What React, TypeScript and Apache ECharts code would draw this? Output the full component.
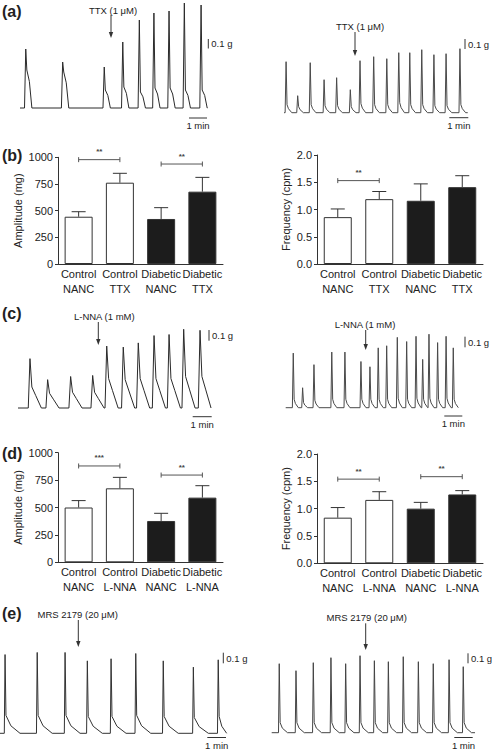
import React, { useEffect, useRef } from "react";
import * as echarts from "echarts";

const FONT = "'Liberation Sans', Arial, Helvetica, sans-serif";

// ---------- bar chart data ----------
const catB = ["Control\nNANC", "Control\nTTX", "Diabetic\nNANC", "Diabetic\nTTX"];
const catD = ["Control\nNANC", "Control\nL-NNA", "Diabetic\nNANC", "Diabetic\nL-NNA"];

const bAmplitude = [443, 762, 422, 678];
const bAmplitudeSem = [47, 88, 106, 134];
const bFrequency = [0.86, 1.19, 1.16, 1.41];
const bFrequencySem = [0.15, 0.14, 0.31, 0.21];

const dAmplitude = [500, 675, 377, 590];
const dAmplitudeSem = [63, 100, 70, 109];
const dFrequency = [0.835, 1.16, 1.0, 1.26];
const dFrequencySem = [0.185, 0.15, 0.115, 0.07];

// significance brackets: [fromCategory, toCategory, level, stars]
const bAmpSig: [number, number, number, string][] = [[0, 1, 978, "**"], [2, 3, 937, "**"]];
const bFreqSig: [number, number, number, string][] = [[0, 1, 1.53, "**"]];
const dAmpSig: [number, number, number, string][] = [[0, 1, 879, "***"], [2, 3, 796, "**"]];
const dFreqSig: [number, number, number, string][] = [[0, 1, 1.54, "**"], [2, 3, 1.585, "**"]];

// ---------- trace data: [time (min), peak (g), shoulder (g)] ----------
const peaksA1 = [[0.32, 0.59, 0.38], [2.37, 0.46, 0.36], [4.68, 0.41, 0.18], [5.71, 0.66, 0.21], [6.63, 0.88, 0.16], [7.44, 0.95, 0.2], [8.28, 0.97, 0.2], [9.13, 1.05, 0.18], [10.06, 1.03, 0.18]];
const peaksA2 = [[0.11, 0.51, 0.08], [0.72, 0.17, 0.06], [1.38, 0.5, 0.08], [2.11, 0.33, 0.07], [2.77, 0.35, 0.07], [3.49, 0.23, 0.06], [4.0, 0.52, 0.09], [4.72, 0.56, 0.08], [5.41, 0.54, 0.08], [6.04, 0.6, 0.1], [6.62, 0.6, 0.08], [7.25, 0.63, 0.08], [7.89, 0.58, 0.07], [8.53, 0.59, 0.07], [9.26, 0.64, 0.08]];
const peaksC1 = [[0.63, 0.47, 0.2], [1.56, 0.27, 0.14], [2.77, 0.3, 0.15], [3.93, 0.31, 0.15], [4.67, 0.59, 0.28], [5.54, 0.58, 0.27], [6.33, 0.62, 0.28], [7.16, 0.69, 0.28], [7.95, 0.7, 0.28], [8.72, 0.75, 0.3], [9.58, 0.74, 0.3]];
const peaksC2 = [[0.42, 0.52, 0.08], [0.94, 0.19, 0.05], [1.57, 0.41, 0.07], [2.56, 0.53, 0.08], [3.29, 0.53, 0.08], [4.18, 0.44, 0.08], [4.68, 0.39, 0.08], [5.14, 0.57, 0.08], [5.61, 0.59, 0.08], [6.2, 0.67, 0.09], [6.72, 0.63, 0.08], [7.24, 0.68, 0.09], [7.61, 0.46, 0.08], [7.96, 0.7, 0.09], [8.44, 0.62, 0.08], [8.91, 0.68, 0.09], [9.31, 0.57, 0.08]];
const peaksE1 = [[0.27, 0.75, 0.17], [1.99, 0.77, 0.17], [3.48, 0.77, 0.17], [4.67, 0.69, 0.16], [5.94, 0.71, 0.16], [7.26, 0.76, 0.17], [8.73, 0.69, 0.16], [10.34, 0.63, 0.15], [11.67, 0.7, 0.16]];
const peaksE2 = [[0.41, 0.69, 0.1], [1.32, 0.62, 0.1], [2.26, 0.7, 0.1], [3.22, 0.75, 0.1], [4.02, 0.69, 0.1], [4.8, 0.77, 0.1], [5.58, 0.72, 0.1], [6.34, 0.71, 0.1], [7.15, 0.76, 0.1], [7.97, 0.71, 0.1], [8.78, 0.69, 0.1], [9.64, 0.73, 0.1], [10.41, 0.66, 0.1]];

// recording lengths (min)
const durations = [10.42, 9.67, 10.16, 9.59, 12.12, 11.05];

type Shape = { rise: number; fall: number; decay: number; midAt: number; midLevel: number };

// connects the read peak / shoulder values of one recording into a polyline
function buildTrace(peaks: number[][], end: number, sh: Shape) {
  const pts: number[][] = [[0, 0]];
  peaks.forEach(([t, h, s], i) => {
    const next = i + 1 < peaks.length ? peaks[i + 1][0] - sh.rise : end;
    const start = t - sh.rise;
    if (start > pts[pts.length - 1][0]) pts.push([start, 0]);
    pts.push([t, h]);
    const f = Math.min(t + sh.fall, next, end);
    pts.push([f, s]);
    const d = Math.min(t + sh.decay, next, end);
    if (d > f) {
      pts.push([f + (d - f) * sh.midAt, s * sh.midLevel]);
      pts.push([d, 0]);
    }
  });
  if (end > pts[pts.length - 1][0]) pts.push([end, 0]);
  return pts;
}

// layout of the trace panels (pixels)
const traceLayout = [
  { peaks: peaksA1, x0: 20, base: 108, pxMin: 18, pxG: 100, yMax: 1.08, shape: { rise: 0.07, fall: 0.06, decay: 0.34, midAt: 0.5, midLevel: 0.7 }, color: "#2b2b2b" },
  { peaks: peaksA2, x0: 284, base: 112.7, pxMin: 19, pxG: 100, yMax: 0.7, shape: { rise: 0.05, fall: 0.05, decay: 0.3, midAt: 0.3, midLevel: 0.5 }, color: "#4a4a4a" },
  { peaks: peaksC1, x0: 18, base: 408, pxMin: 19, pxG: 105, yMax: 0.8, shape: { rise: 0.09, fall: 0.1, decay: 0.6, midAt: 0.4, midLevel: 0.6 }, color: "#2b2b2b" },
  { peaks: peaksC2, x0: 285.7, base: 407.7, pxMin: 18, pxG: 105, yMax: 0.8, shape: { rise: 0.05, fall: 0.05, decay: 0.28, midAt: 0.3, midLevel: 0.5 }, color: "#4a4a4a" },
  { peaks: peaksE1, x0: 0, base: 733.3, pxMin: 18.7, pxG: 105, yMax: 0.85, shape: { rise: 0.04, fall: 0.05, decay: 0.8, midAt: 0.35, midLevel: 0.42 }, color: "#333" },
  { peaks: peaksE2, x0: 271.7, base: 732.7, pxMin: 18.4, pxG: 100, yMax: 0.8, shape: { rise: 0.04, fall: 0.05, decay: 0.45, midAt: 0.3, midLevel: 0.45 }, color: "#444" },
];

const barLayout = [
  { left: 58, top: 157.3, width: 165, height: 106.7 },
  { left: 317, top: 155, width: 166, height: 109 },
  { left: 58, top: 452.7, width: 165, height: 109.6 },
  { left: 317, top: 454, width: 166, height: 109.3 },
];

const barFills = ["#ffffff", "#ffffff", "#1c1c1c", "#1c1c1c"];

function txt(text: string, x: number, y: number, size: number, align = "left", weight = "normal") {
  return {
    type: "text",
    x,
    y,
    silent: true,
    style: {
      text,
      font: `${weight} ${size}px ${FONT}`,
      fill: "#222",
      textAlign: align,
      align,
      textVerticalAlign: "middle",
      verticalAlign: "middle",
    },
  };
}
function ln(x1: number, y1: number, x2: number, y2: number, color = "#333") {
  return { type: "line", silent: true, shape: { x1, y1, x2, y2 }, style: { stroke: color, lineWidth: 1 } };
}
function arrow(label: string, tx: number, ty: number, ax: number, y1: number, y2: number) {
  return [
    txt(label, tx, ty, 9.5, "center"),
    ln(ax, y1, ax, y2 - 4),
    {
      type: "polygon",
      silent: true,
      shape: { points: [[ax - 2.2, y2 - 6], [ax + 2.2, y2 - 6], [ax, y2]] },
      style: { fill: "#333" },
    },
  ];
}
function scaleBars(vx: number, vy1: number, vy2: number, hx1: number, hx2: number, hy: number) {
  return [
    ln(vx, vy1, vx, vy2),
    txt("0.1 g", vx + 3, (vy1 + vy2) / 2, 9.5),
    ln(hx1, hy, hx2, hy),
    txt("1 min", (hx1 + hx2) / 2, hy + 7.5, 9.5, "center"),
  ];
}

export default function App() {
  const ref = useRef<HTMLDivElement>(null);
  useEffect(() => {
    if (!ref.current) return;
    const chart = echarts.init(ref.current, null, { renderer: "svg", width: 492, height: 750 });

    const grids: any[] = [];
    const xAxes: any[] = [];
    const yAxes: any[] = [];
    const series: any[] = [];

    traceLayout.forEach((tr, i) => {
      const end = durations[i];
      const h = tr.yMax * tr.pxG;
      const pts = buildTrace(tr.peaks, end, tr.shape);
      grids.push({ left: tr.x0, top: tr.base - h, width: end * tr.pxMin, height: h, outerBoundsMode: "none" });
      xAxes.push({ type: "value", gridIndex: i, min: 0, max: end, show: false });
      yAxes.push({ type: "value", gridIndex: i, min: 0, max: tr.yMax, show: false });
      series.push({
        type: "custom",
        xAxisIndex: i,
        yAxisIndex: i,
        silent: true,
        clip: false,
        encode: { x: 0, y: 1 },
        data: pts,
        renderItem: (params: any, api: any) => {
          if (params.dataIndex !== 0) return null;
          const points = pts.map((p) => api.coord(p));
          return {
            type: "polyline",
            shape: { points },
            style: { stroke: tr.color, lineWidth: 1, fill: null, lineJoin: "miter" },
          };
        },
      });
    });

    const barSets = [
      { cats: catB, vals: bAmplitude, sem: bAmplitudeSem, sig: bAmpSig, max: 1000, interval: 250, name: "Amplitude (mg)", gap: 35, dec: 0 },
      { cats: catB, vals: bFrequency, sem: bFrequencySem, sig: bFreqSig, max: 2, interval: 0.5, name: "Frequency (cpm)", gap: 26, dec: 1 },
      { cats: catD, vals: dAmplitude, sem: dAmplitudeSem, sig: dAmpSig, max: 1000, interval: 250, name: "Amplitude (mg)", gap: 35, dec: 0 },
      { cats: catD, vals: dFrequency, sem: dFrequencySem, sig: dFreqSig, max: 2, interval: 0.5, name: "Frequency (cpm)", gap: 26, dec: 1 },
    ];

    barSets.forEach((b, k) => {
      const gi = traceLayout.length + k;
      grids.push({ ...barLayout[k], outerBoundsMode: "none" });
      xAxes.push({
        type: "category",
        gridIndex: gi,
        data: b.cats,
        axisLine: { show: true, lineStyle: { color: "#333", width: 1 } },
        axisTick: { show: false },
        axisLabel: { interval: 0, color: "#222", fontSize: 11, lineHeight: 15, margin: 2, fontFamily: FONT },
      });
      yAxes.push({
        type: "value",
        gridIndex: gi,
        min: 0,
        max: b.max,
        interval: b.interval,
        name: b.name,
        nameLocation: "middle",
        nameGap: b.gap,
        nameTextStyle: { color: "#222", fontSize: 11, fontFamily: FONT },
        axisLine: { show: true, lineStyle: { color: "#333", width: 1 } },
        axisTick: { show: true, length: 3, lineStyle: { color: "#333" } },
        splitLine: { show: false },
        axisLabel: {
          color: "#222",
          fontSize: 11,
          margin: 5,
          fontFamily: FONT,
          formatter: (v: number) => (b.dec ? v.toFixed(1) : String(v)),
        },
      });
      series.push({
        type: "bar",
        xAxisIndex: gi,
        yAxisIndex: gi,
        barWidth: 28,
        silent: true,
        data: b.vals.map((v, i) => ({ value: v, itemStyle: { color: barFills[i] } })),
        itemStyle: { borderColor: "#333", borderWidth: 1 },
      });
      series.push({
        type: "custom",
        xAxisIndex: gi,
        yAxisIndex: gi,
        silent: true,
        z: 5,
        encode: { x: 0, y: [1, 2] },
        data: b.vals.map((v, i) => [i, v, v + b.sem[i]]),
        renderItem: (_p: any, api: any) => {
          const p0 = api.coord([api.value(0), api.value(1)]);
          const p1 = api.coord([api.value(0), api.value(2)]);
          const st = { stroke: "#333", lineWidth: 1 };
          return {
            type: "group",
            children: [
              { type: "line", shape: { x1: p0[0], y1: p0[1], x2: p1[0], y2: p1[1] }, style: st },
              { type: "line", shape: { x1: p1[0] - 7, y1: p1[1], x2: p1[0] + 7, y2: p1[1] }, style: st },
            ],
          };
        },
      });
      series.push({
        type: "custom",
        xAxisIndex: gi,
        yAxisIndex: gi,
        silent: true,
        z: 5,
        encode: { x: [0, 1], y: 2 },
        data: b.sig.map((s) => [s[0], s[1], s[2]]),
        renderItem: (p: any, api: any) => {
          const a = api.coord([api.value(0), api.value(2)]);
          const c = api.coord([api.value(1), api.value(2)]);
          const st = { stroke: "#555", lineWidth: 1 };
          return {
            type: "group",
            children: [
              { type: "line", shape: { x1: a[0], y1: a[1], x2: c[0], y2: c[1] }, style: st },
              { type: "line", shape: { x1: a[0], y1: a[1] - 2.5, x2: a[0], y2: a[1] + 2.5 }, style: st },
              { type: "line", shape: { x1: c[0], y1: c[1] - 2.5, x2: c[0], y2: c[1] + 2.5 }, style: st },
              {
                type: "text",
                x: (a[0] + c[0]) / 2,
                y: a[1] - 8,
                style: { text: b.sig[p.dataIndex][3], font: `bold 8px ${FONT}`, fill: "#444", align: "center", verticalAlign: "middle" },
              },
            ],
          };
        },
      });
    });

    const graphics: any[] = [
      txt("(a)", 2, 11, 16, "left", "bold"),
      txt("(b)", 2, 155, 16, "left", "bold"),
      txt("(c)", 2, 313, 16, "left", "bold"),
      txt("(d)", 2, 453, 16, "left", "bold"),
      txt("(e)", 2, 613, 16, "left", "bold"),
      ...arrow("TTX (1 \u03bcM)", 113, 10, 111, 15, 38),
      ...arrow("TTX (1 \u03bcM)", 360, 26.7, 355, 32, 56),
      ...arrow("L-NNA (1 mM)", 104.3, 316.7, 98.3, 322, 345),
      ...arrow("L-NNA (1 mM)", 365, 324.3, 365.7, 330, 350),
      ...arrow("MRS 2179 (20 \u03bcM)", 77.7, 614.3, 78.3, 620, 647),
      ...arrow("MRS 2179 (20 \u03bcM)", 366.7, 617.7, 365.7, 623.3, 650),
      ...scaleBars(208.3, 39, 48.5, 189, 207, 118),
      ...scaleBars(465, 39, 49, 449.3, 468.3, 117.7),
      ...scaleBars(209, 330, 340.7, 192.7, 211.7, 416.7),
      ...scaleBars(465, 336.7, 347.3, 444.3, 462.3, 416),
      ...scaleBars(223.3, 652.7, 663.3, 207.3, 226, 737.5),
      ...scaleBars(468, 653.3, 663.3, 454.3, 472.7, 737.5),
    ];

    chart.setOption({
      animation: false,
      backgroundColor: "#ffffff",
      textStyle: { fontFamily: FONT },
      grid: grids,
      xAxis: xAxes,
      yAxis: yAxes,
      series,
      graphic: graphics,
    });
    return () => chart.dispose();
  }, []);
  return (
    <div
      ref={ref}
      style={{ position: "absolute", left: 0, top: 0, width: 492, height: 750, background: "#fff" }}
    />
  );
}
